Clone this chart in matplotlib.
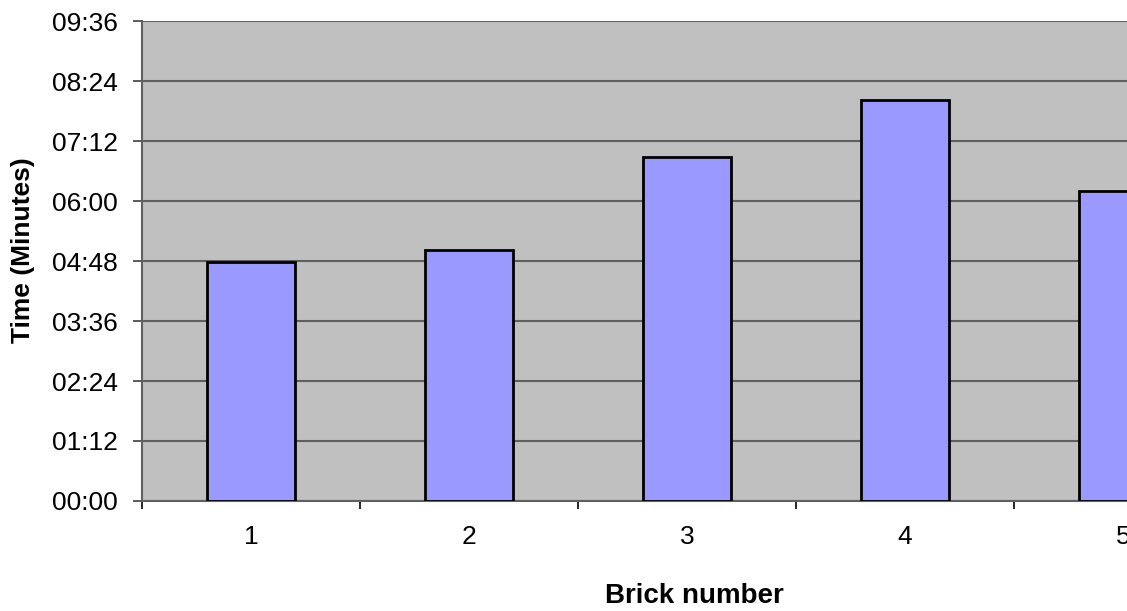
import matplotlib
matplotlib.use("Agg")
import matplotlib.pyplot as plt
from matplotlib.ticker import MultipleLocator, FuncFormatter

bricks = ["1", "2", "3", "4", "5"]
# times in seconds
times = [287, 301, 413, 481, 372]

plt.rcParams['font.family'] = ['Liberation Sans', 'DejaVu Sans']

def mmss(v, pos):
    v = int(round(v))
    return f"{v // 60:02d}:{v % 60:02d}"

fig = plt.figure(figsize=(11.27, 6.11), dpi=100)
# axes runs past the right edge, as in the cropped original
ax = fig.add_axes([142 / 1127, 110 / 611, 1090 / 1127, 480 / 611])
ax.set_facecolor('#c0c0c0')

x = range(len(bricks))
ax.bar(x, times, width=0.4, color='#9999ff', edgecolor='black', linewidth=2, zorder=3)

ax.set_xlim(-0.5, len(bricks) - 0.5)
ax.set_ylim(0, 576)
ax.yaxis.set_major_locator(MultipleLocator(72))
ax.yaxis.set_major_formatter(FuncFormatter(mmss))
ax.grid(axis='y', color='#606060', linewidth=1.5, zorder=1)

ax.set_xticks(x)
ax.set_xticklabels(bricks)
ax.set_xticks([i - 0.5 for i in range(len(bricks) + 1)], minor=True)
ax.tick_params(axis='x', which='major', length=0, pad=17, labelsize=19)
ax.tick_params(axis='x', which='minor', length=6, width=1.2, color='black')
ax.tick_params(axis='y', length=6.5, width=1.2, color='#404040', labelsize=19, pad=11)

for s in ['top', 'right']:
    ax.spines[s].set_visible(False)
ax.spines['left'].set_color('#606060')
ax.spines['left'].set_linewidth(1.5)
ax.spines['bottom'].set_color('#606060')
ax.spines['bottom'].set_linewidth(1.5)

fig.text(23 / 1127, 1 - 250 / 611, 'Time (Minutes)', rotation=90, ha='center', va='center',
         fontsize=19, fontweight='bold')
fig.text(694 / 1127, 1 - 596 / 611, 'Brick number', ha='center', va='center',
         fontsize=20, fontweight='bold')

fig.savefig('out.png', dpi=100)
